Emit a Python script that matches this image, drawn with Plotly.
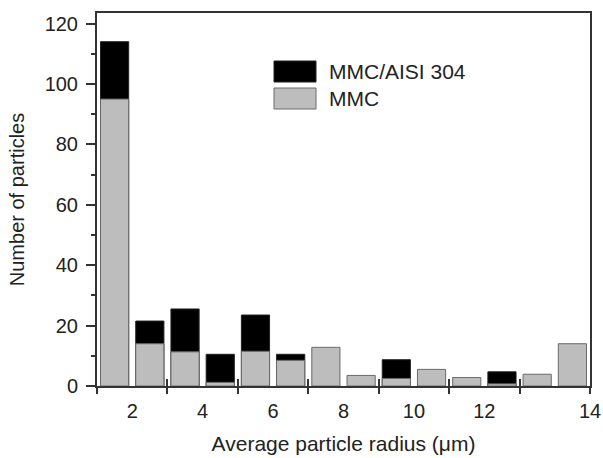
import plotly.graph_objects as go

# Data
bin_centers = [1.5, 2.5, 3.5, 4.5, 5.5, 6.5, 7.5, 8.5, 9.5, 10.5, 11.5, 12.5, 13.5, 14.5]
mmc_aisi = [114, 21.5, 25.5, 10.5, 23.5, 10.5, None, None, 8.7, None, None, 4.7, None, None]
mmc = [95, 14, 11.3, 1.2, 11.5, 8.5, 12.8, 3.5, 2.5, 5.5, 2.8, 0.7, 3.9, 14]
x_tick_vals = [2, 4, 6, 8, 10, 12, 15]
x_tick_text = ["2", "4", "6", "8", "10", "12", "14"]
x_tick_marks = [1, 3, 5, 7, 9, 11, 13, 15]
series_names = ["MMC/AISI 304", "MMC"]

FONT = "Liberation Sans, Arial, sans-serif"
GREY = "#bdbdbd"
EDGE = "#6a6a6a"
AXC = "#333333"

fig = go.Figure()
fig.add_trace(go.Bar(x=bin_centers, y=mmc_aisi, width=0.8, name=series_names[0],
                     marker=dict(color="black", line=dict(color="#222", width=1))))
fig.add_trace(go.Bar(x=bin_centers, y=mmc, width=0.8, name=series_names[1],
                     marker=dict(color=GREY, line=dict(color=EDGE, width=1))))

fig.update_layout(
    width=603, height=458,
    margin=dict(l=97, r=13, t=13, b=72),
    barmode="overlay",
    showlegend=False,
    plot_bgcolor="white", paper_bgcolor="white",
    font=dict(family=FONT, size=20, color="#222"),
    xaxis=dict(range=[1, 15], tickvals=x_tick_vals, ticktext=x_tick_text,
               ticks="", showgrid=False, zeroline=False, automargin=False,
               ticklabelstandoff=6,
               showline=True, linecolor=AXC, linewidth=2, mirror=True,
               title=dict(text="Average particle radius (μm)", font=dict(size=21)),
               tickfont=dict(size=20)),
    xaxis2=dict(range=[1, 15], overlaying="x", anchor="y", side="bottom",
                tickmode="array", tickvals=x_tick_marks, ticks="inside", ticklen=7,
                tickwidth=1.5, tickcolor=AXC, showticklabels=False, automargin=False,
                showgrid=False, zeroline=False, showline=False),
    xaxis3=dict(range=[1, 15], overlaying="x", anchor="y", side="bottom",
                tickmode="array", tickvals=x_tick_marks, ticks="outside", ticklen=7,
                tickwidth=1.5, tickcolor=AXC, showticklabels=False, automargin=False,
                showgrid=False, zeroline=False, showline=False),
    yaxis=dict(range=[0, 123.5], tickvals=[0, 20, 40, 60, 80, 100, 120],
               ticks="outside", ticklen=9, tickwidth=1.5, tickcolor=AXC,
               ticklabelstandoff=4,
               minor=dict(tickvals=[10, 30, 50, 70, 90, 110], ticks="outside",
                          ticklen=4, tickwidth=1.5, tickcolor=AXC),
               showgrid=False, zeroline=False, automargin=False,
               showline=True, linecolor=AXC, linewidth=2, mirror=True,
               title=dict(text="Number of particles", font=dict(size=20)),
               tickfont=dict(size=20)),
)

# invisible helper traces so the extra tick axes render
fig.add_trace(go.Scatter(x=[1], y=[0], xaxis="x2", mode="markers",
                         marker=dict(opacity=0), hoverinfo="skip", showlegend=False))
fig.add_trace(go.Scatter(x=[1], y=[0], xaxis="x3", mode="markers",
                         marker=dict(opacity=0), hoverinfo="skip", showlegend=False))

# manual legend
legend_items = [(series_names[0], "black", "#222"), (series_names[1], GREY, EDGE)]
px_w, px_h = 603 - 97 - 13, 458 - 13 - 72
def fx(px):
    return (px - 97) / px_w
def fy(py):
    return 1 - (py - 13) / px_h
for i, (name, col, edge) in enumerate(legend_items):
    top = 61 + i * 27
    fig.add_shape(type="rect", xref="paper", yref="paper",
                  x0=fx(274), x1=fx(316), y0=fy(top + 21), y1=fy(top),
                  fillcolor=col, line=dict(color=edge, width=1))
    fig.add_annotation(xref="paper", yref="paper", x=fx(327), y=fy(top + 10.5),
                       text=name, showarrow=False, xanchor="left", yanchor="middle",
                       font=dict(size=21, family=FONT, color="#222"))

fig.write_html("out.html", config={"displayModeBar": False},
               post_script="document.body.style.margin='0';document.body.style.overflow='hidden';")
